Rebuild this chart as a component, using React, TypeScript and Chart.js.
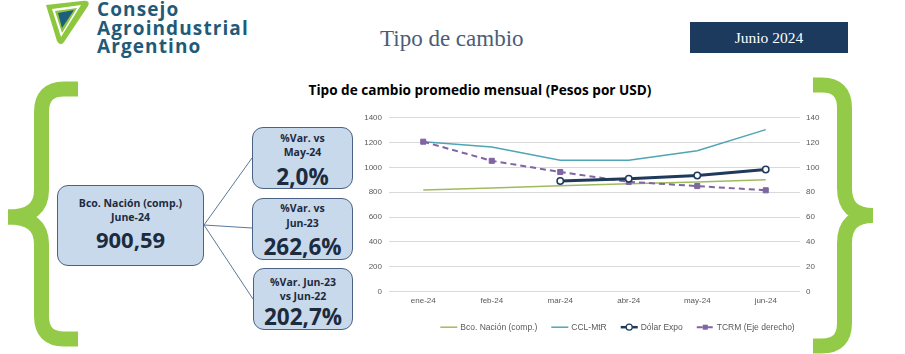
import React, { useEffect, useRef } from "react";
import { Chart, registerables } from "chart.js";

Chart.register(...registerables);

const months = ["ene-24", "feb-24", "mar-24", "abr-24", "may-24", "jun-24"];
const bcoNacion = [818, 834, 852, 868, 883, 900.59];
const cclMtr = [1207, 1165, 1057, 1058, 1134, 1304];
const dolarExpo = [null, null, 891, 909, 935, 983];
const tcrm = [120.7, 105.3, 96.3, 88.4, 85.0, 81.6];
const leftTicks = [0, 200, 400, 600, 800, 1000, 1200, 1400];
const rightTicks = [0, 20, 40, 60, 80, 100, 120, 140];

const SANS = '"Liberation Sans", Arial, sans-serif';
const BOX = '"Open Sans", sans-serif';

const legendPlugin = {
  id: "customLegend",
  afterDraw(chart: any) {
    const ctx = chart.ctx;
    const area = chart.chartArea;
    const ds = chart.data.datasets;
    ctx.save();
    ctx.font = `8.5px ${SANS}`;
    const lineLen = 17;
    const gapLT = 3;
    const gapItem = 14;
    const widths = ds.map((d: any) => ctx.measureText(d.label).width);
    let total = 0;
    widths.forEach((w: number, i: number) => {
      total += lineLen + gapLT + w + (i < widths.length - 1 ? gapItem : 0);
    });
    let x = (area.left + area.right) / 2 + 23 - total / 2;
    const y = area.bottom + 35.5;
    ds.forEach((d: any, i: number) => {
      ctx.save();
      ctx.strokeStyle = d.borderColor;
      ctx.lineWidth = Math.min(d.borderWidth, 2.5);
      ctx.setLineDash(d.borderDash || []);
      ctx.beginPath();
      ctx.moveTo(x, y);
      ctx.lineTo(x + lineLen, y);
      ctx.stroke();
      ctx.setLineDash([]);
      const cx = x + lineLen / 2;
      if (d.pointRadius > 0) {
        ctx.fillStyle = d.pointBackgroundColor;
        ctx.strokeStyle = d.pointBorderColor;
        ctx.lineWidth = 1.2;
        if (d.pointStyle === "rect") {
          ctx.fillRect(cx - 2.5, y - 2.5, 5, 5);
        } else {
          ctx.beginPath();
          ctx.arc(cx, y, 3, 0, Math.PI * 2);
          ctx.fill();
          ctx.stroke();
        }
      }
      ctx.restore();
      ctx.fillStyle = "#595959";
      ctx.textBaseline = "middle";
      ctx.textAlign = "left";
      ctx.fillText(d.label, x + lineLen + gapLT, y);
      x += lineLen + gapLT + widths[i] + gapItem;
    });
    ctx.restore();
  },
};

function ChartBlock() {
  const ref = useRef<HTMLCanvasElement | null>(null);
  useEffect(() => {
    if (!ref.current) return;
    const chart = new Chart(ref.current, {
      type: "line",
      data: {
        labels: months,
        datasets: [
          {
            label: "Bco. Nación (comp.)",
            data: bcoNacion,
            borderColor: "#9fbb5e",
            backgroundColor: "#9fbb5e",
            borderWidth: 1.5,
            pointRadius: 0,
            yAxisID: "y",
            order: 3,
          },
          {
            label: "CCL-MtR",
            data: cclMtr,
            borderColor: "#4ea6b4",
            backgroundColor: "#4ea6b4",
            borderWidth: 1.5,
            pointRadius: 0,
            yAxisID: "y",
            order: 2,
          },
          {
            label: "Dólar Expo",
            data: dolarExpo,
            borderColor: "#1f3a5a",
            backgroundColor: "#ffffff",
            borderWidth: 3,
            pointRadius: 3.2,
            pointStyle: "circle",
            pointBackgroundColor: "#ffffff",
            pointBorderColor: "#1f3a5a",
            pointBorderWidth: 1.5,
            yAxisID: "y",
            order: 0,
          },
          {
            label: "TCRM (Eje derecho)",
            data: tcrm,
            borderColor: "#7f65a1",
            backgroundColor: "#7f65a1",
            borderWidth: 2,
            borderDash: [6, 4],
            pointRadius: 3.6,
            pointStyle: "rect",
            pointBackgroundColor: "#7f65a1",
            pointBorderColor: "#7f65a1",
            pointBorderWidth: 1,
            yAxisID: "y1",
            order: 1,
          },
        ] as any,
      },
      options: {
        animation: false,
        responsive: false,
        maintainAspectRatio: false,
        spanGaps: false,
        layout: { padding: { left: 0, right: 0, top: 39.7, bottom: 34.3 } },
        plugins: {
          legend: { display: false },
          tooltip: { enabled: false },
          title: { display: false },
        },
        scales: {
          x: {
            offset: true,
            grid: { display: false, drawTicks: false },
            border: { display: false },
            ticks: {
              color: "#595959",
              font: { family: SANS, size: 8 },
              padding: 4,
              maxRotation: 0,
            },
            afterFit: (s: any) => {
              s.height = 20;
            },
          },
          y: {
            position: "left",
            min: 0,
            max: 1400,
            afterBuildTicks: (s: any) => {
              s.ticks = leftTicks.map((v) => ({ value: v }));
            },
            grid: { color: "#d9d9d9", lineWidth: 1, drawTicks: false },
            border: { display: false },
            ticks: {
              color: "#595959",
              font: { family: SANS, size: 8 },
              padding: 7,
              callback: (v: any) => String(v),
            },
            afterFit: (s: any) => {
              s.width = 94;
            },
          },
          y1: {
            position: "right",
            min: 0,
            max: 140,
            afterBuildTicks: (s: any) => {
              s.ticks = rightTicks.map((v) => ({ value: v }));
            },
            grid: { display: false, drawTicks: false },
            border: { display: false },
            ticks: {
              color: "#595959",
              font: { family: SANS, size: 8 },
              padding: 6,
              callback: (v: any) => String(v),
            },
            afterFit: (s: any) => {
              s.width = 35;
            },
          },
        },
      } as any,
      plugins: [legendPlugin],
    });
    return () => chart.destroy();
  }, []);
  return (
    <canvas
      ref={ref}
      width={540}
      height={268}
      style={{ position: "absolute", left: 295, top: 78, width: 540, height: 268 }}
    />
  );
}

const boxStyle = (l: number, t: number, w: number, h: number): React.CSSProperties => ({
  position: "absolute",
  left: l,
  top: t,
  width: w,
  height: h,
  boxSizing: "border-box",
  background: "#c8d9eb",
  border: "1.3px solid #4a6385",
  borderRadius: 11,
});

const txt = (cx: number, cy: number, size: number, text: string) => (
  <div
    style={{
      position: "absolute",
      left: cx - 100,
      width: 200,
      top: cy - size * 0.7,
      height: size * 1.4,
      lineHeight: `${size * 1.4}px`,
      textAlign: "center",
      fontFamily: BOX,
      fontWeight: 700,
      fontSize: size,
      color: "#1c2b3e",
      whiteSpace: "nowrap",
    }}
  >
    {text}
  </div>
);

export default function App() {
  return (
    <div
      style={{
        position: "absolute",
        left: 0,
        top: 0,
        width: 905,
        height: 354,
        background: "#ffffff",
        overflow: "hidden",
      }}
    >
      <svg width={905} height={354} style={{ position: "absolute", left: 0, top: 0 }}>
        {/* logo icon */}
        <path d="M46 5 L82 1 Q91 0 88 6 L64 42 Q60 47 57 41 Z" fill="#8dc63f" />
        <path d="M52 9 L81 5 L61 37 Z" fill="#ffffff" />
        <path d="M55 11 L77 8 L62 33 Z" fill="#8dc63f" />
        <path d="M58 13 L74 10 L62 28 Z" fill="#1d5f7c" />
        {/* braces */}
        <g stroke="#93cb48" strokeWidth={15} fill="none" strokeLinecap="butt">
          <path d="M78 89 H64 Q41.5 89 41.5 112 V190 Q41.5 217 8 217" />
          <path d="M8 217 Q41.5 217 41.5 244 V316 Q41.5 339 64 339 H78" />
          <path d="M813 85 H822 Q844.5 85 844.5 108 V188 Q844.5 215.5 873 215.5" />
          <path d="M873 215.5 Q844.5 215.5 844.5 243 V323 Q844.5 346 822 346 H813" />
        </g>
        {/* connectors */}
        <g stroke="#5a789c" strokeWidth={1} fill="none">
          <line x1={204} y1={225} x2={252} y2={158} />
          <line x1={204} y1={225} x2={252} y2={228} />
          <line x1={204} y1={225} x2={253} y2={299} />
        </g>
      </svg>

      {/* logo text */}
      <div
        style={{
          position: "absolute",
          left: 97,
          top: 0,
          fontFamily: BOX,
          fontWeight: 700,
          fontSize: 19,
          lineHeight: "18.5px",
          letterSpacing: 1.1,
          color: "#1f5b78",
        }}
      >
        <div>Consejo</div>
        <div>Agroindustrial</div>
        <div>Argentino</div>
      </div>

      {/* page title */}
      <div
        style={{
          position: "absolute",
          left: 380,
          top: 25,
          fontFamily: '"Liberation Serif", "Times New Roman", serif',
          fontSize: 23,
          lineHeight: "28px",
          color: "#4a5d78",
          whiteSpace: "nowrap",
        }}
      >
        Tipo de cambio
      </div>
      <div
        style={{
          position: "absolute",
          left: 690,
          top: 22,
          width: 158,
          height: 31,
          background: "#1c3a5e",
          color: "#ffffff",
          fontFamily: '"Liberation Serif", "Times New Roman", serif',
          fontSize: 15.5,
          lineHeight: "31px",
          textAlign: "center",
        }}
      >
        Junio 2024
      </div>

      {/* chart title */}
      <div
        style={{
          position: "absolute",
          left: 280,
          width: 400,
          top: 80,
          height: 20,
          lineHeight: "20px",
          textAlign: "center",
          fontFamily: BOX,
          fontWeight: 700,
          fontSize: 13.6,
          color: "#000000",
          whiteSpace: "nowrap",
        }}
      >
        Tipo de cambio promedio mensual (Pesos por USD)
      </div>

      {/* boxes */}
      <div style={boxStyle(57, 185, 147, 81)} />
      <div style={boxStyle(252, 127, 101, 62)} />
      <div style={boxStyle(252, 198, 101, 62)} />
      <div style={boxStyle(253, 268, 100, 62)} />

      {txt(130.5, 203, 10.5, "Bco. Nación (comp.)")}
      {txt(130.5, 217, 10.5, "June-24")}
      {txt(130.5, 239, 22, "900,59")}

      {txt(302.5, 138, 10.5, "%Var. vs")}
      {txt(302.5, 152, 10.5, "May-24")}
      {txt(302.5, 177, 22.5, "2,0%")}

      {txt(302.5, 208, 10.5, "%Var. vs")}
      {txt(302.5, 223, 10.5, "Jun-23")}
      {txt(302.5, 247, 22.5, "262,6%")}

      {txt(303, 282, 10.5, "%Var. Jun-23")}
      {txt(303, 296, 10.5, "vs Jun-22")}
      {txt(303, 317, 22.5, "202,7%")}

      <ChartBlock />
    </div>
  );
}
